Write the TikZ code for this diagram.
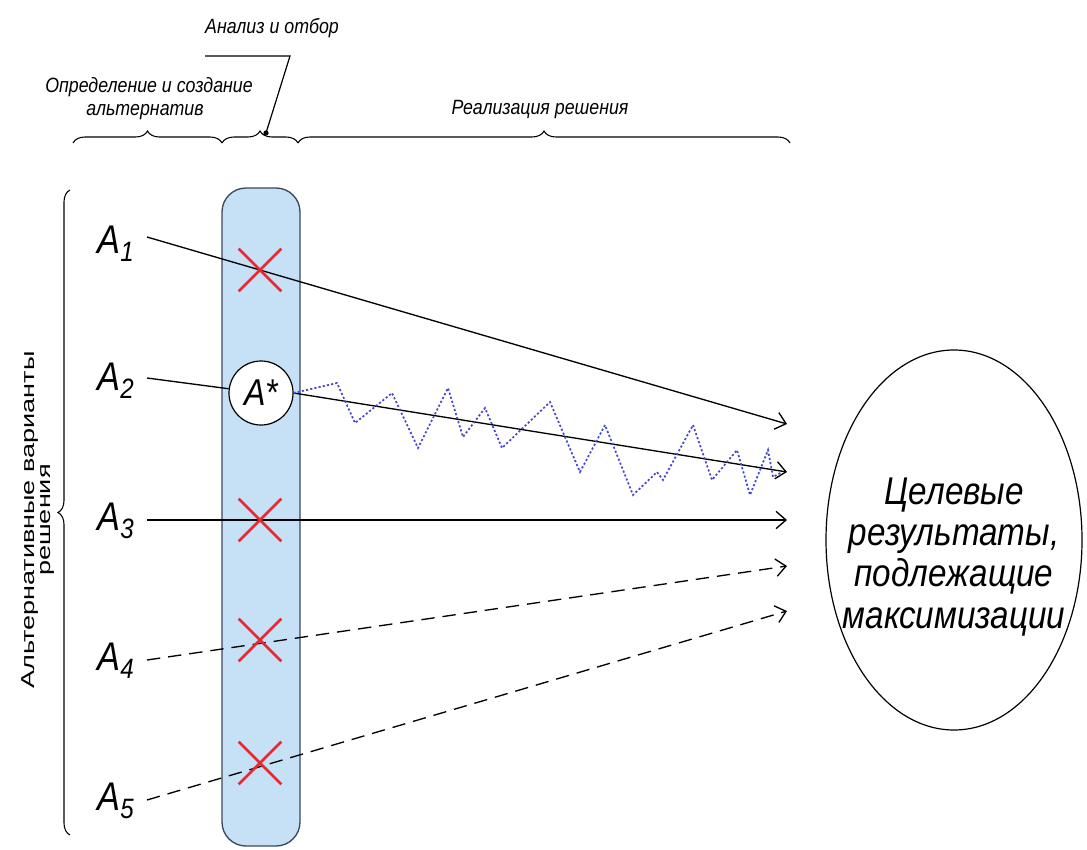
\documentclass[tikz,border=0pt]{standalone}
\usepackage{fontspec}
\setmainfont{Liberation Sans}
\newfontfamily\narrowsans[FakeStretch=0.86]{Liberation Sans}
\newfontfamily\longsans[FakeStretch=1.45]{Liberation Sans}
\usetikzlibrary{arrows.meta,decorations.pathreplacing,shapes.geometric,shapes.misc}
\definecolor{panelfill}{RGB}{198,224,245}
\definecolor{paneldraw}{RGB}{60,72,92}
\definecolor{xred}{RGB}{232,40,48}
\definecolor{zigblue}{RGB}{70,70,215}
\begin{document}
\begin{tikzpicture}[x=0.75pt,y=-0.75pt,
  toplab/.style={font=\narrowsans\itshape\fontsize{15.5}{18}\selectfont, inner sep=0},
  altlab/.style={font=\narrowsans\itshape\fontsize{30}{32}\selectfont, inner sep=0},
  conn/.style={line width=1pt, -{Straight Barb[length=7.5pt,width=13pt,line width=1pt]}},
  plainconn/.style={line width=1pt},
  dashconn/.style={conn, dash pattern=on 10pt off 6pt},
  bracestyle/.style={line width=0.8pt, decorate, decoration={brace, amplitude=9pt}},
  xmark/.style={cross out, draw=xred, line width=2pt, minimum size=30pt, inner sep=0},
  zig/.style={draw=zigblue, line width=1.3pt, dash pattern=on 1.6pt off 1.6pt}]
\useasboundingbox (0,0) rectangle (1087,849);

% top braces and labels
\draw[bracestyle] (73,143) -- (222,143);
\draw[bracestyle] (222,143) -- (298,143);
\draw[bracestyle] (298,143) -- (790,143);
\node[toplab] (lab1a) at (149,87) {Определение и создание};
\node[toplab] (lab1b) at (145,112) {альтернатив};
\node[toplab] (lab2) at (272,28) {Анализ и отбор};
\node[toplab] (lab3) at (540,110) {Реализация решения};
\coordinate (ldA) at (205,56);
\coordinate (ldB) at (290,56);
\coordinate (ldC) at (266,133);
\draw[line width=0.9pt] (ldA) -- (ldB) -- (ldC);
\fill (ldC) circle (2.6);

% left brace and rotated label
\draw[bracestyle] (70,835) -- (70,190);
\node[rotate=90, align=center, inner sep=0, font=\longsans\fontsize{14}{12.5}\selectfont] (altlabel) at (38,520)
  {Альтернативные варианты\\решения};

% panel
\draw[fill=panelfill, draw=paneldraw, line width=1pt, rounded corners=18pt] (222,188) rectangle (300,846);

% labels A1..A5
\node[altlab] (a1) at (116,244) {A\textsubscript{1}};
\node[altlab] (a2) at (116,381) {A\textsubscript{2}};
\node[altlab] (a3) at (116,521) {A\textsubscript{3}};
\node[altlab] (a4) at (116,661) {A\textsubscript{4}};
\node[altlab] (a5) at (116,801) {A\textsubscript{5}};

\coordinate (s1) at (147,237);
\coordinate (s2) at (147,378);
\coordinate (s3) at (147,520);
\coordinate (s4) at (147,660);
\coordinate (s5) at (147,800);
\coordinate (t1) at (787,424);
\coordinate (t2) at (787,472);
\coordinate (t3) at (787,520);
\coordinate (t4) at (787,566);
\coordinate (t5) at (787,611);

% chosen alternative
\node[circle, draw, fill=white, line width=0.9pt, minimum size=48pt, inner sep=0,
      font=\narrowsans\itshape\fontsize{28}{30}\selectfont] (astar) at (261,393) {A*};

% connectors
\draw[conn] (s1) -- (t1);
\draw[plainconn] (s2) -- (astar);
\draw[conn] (astar.east) -- (t2);
\draw[conn] (s3) -- (t3);
\draw[dashconn] (s4) -- (t4);
\draw[dashconn] (s5) -- (t5);

% zigzag real trajectory
\draw[zig] (astar.east) -- (337,383) -- (355,423) -- (392,393) -- (418,448) -- (448,388)
  -- (463,437) -- (485,408) -- (502,448) -- (550,402) -- (580,472) -- (605,425)
  -- (633,495) -- (657,472) -- (663,480) -- (693,425) -- (712,480) -- (737,450)
  -- (750,495) -- (768,450) -- (773,477) -- (782,472);

% crosses
\node[xmark] (x1) at (260,270) {};
\node[xmark] (x3) at (260,520) {};
\node[xmark] (x4) at (260,640) {};
\node[xmark] (x5) at (260,763) {};

% goal ellipse
\node[ellipse, draw, line width=0.9pt, minimum width=192pt, minimum height=285pt, inner sep=0] (goal) at (954,540) {};
\node[align=center, inner sep=0, font=\narrowsans\itshape\fontsize{29}{30.8}\selectfont] (goaltext) at (954,557)
  {Целевые\\результаты,\\подлежащие\\максимизации};
\end{tikzpicture}
\end{document}
